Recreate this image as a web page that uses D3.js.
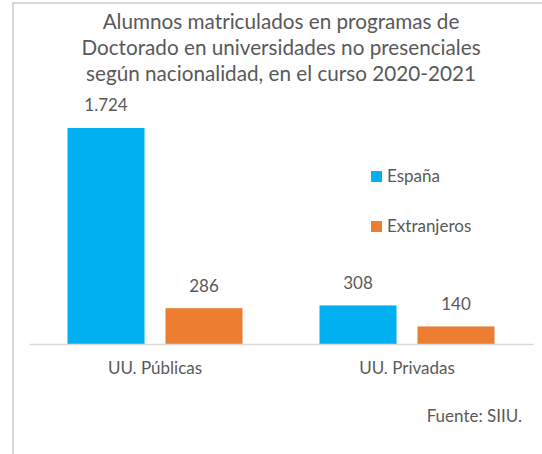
<!DOCTYPE html>
<html>
<head>
<meta charset="utf-8">
<script src="https://cdn.jsdelivr.net/npm/d3@7"></script>
<style>
  body { margin: 0; background: #fff; }
  text { font-family: Lato, "Noto Sans", sans-serif; fill: #595959; }
</style>
</head>
<body>
<script>
// data
var categories = ["UU. Públicas", "UU. Privadas"];
var series = ["España", "Extranjeros"];
var espana = [1724, 308];
var extranjeros = [286, 140];
var titleLines = ["Alumnos matriculados en programas de",
                  "Doctorado en universidades no presenciales",
                  "según nacionalidad, en el curso 2020-2021"];

var colors = {"España": "#00B0F0", "Extranjeros": "#ED7D31"};
var W = 542, H = 454;
var fs = 17; // small text size

var svg = d3.select("body").append("svg")
    .attr("width", W)
    .attr("height", H);

// frame (only left and top visible)
svg.append("rect")
    .attr("x", 13).attr("y", 3)
    .attr("width", W + 20).attr("height", H + 20)
    .attr("fill", "none")
    .attr("stroke", "#d9d9d9")
    .attr("stroke-width", 2);

// title
svg.append("text")
    .attr("text-anchor", "middle")
    .attr("font-size", 20.7)
    .selectAll("tspan")
    .data(titleLines)
    .join("tspan")
    .attr("x", 281)
    .attr("y", function(d, i) { return 29 + i * 26; })
    .text(function(d) { return d; });

var x = d3.scaleBand()
    .domain(categories)
    .range([29, 533]);

var xs = d3.scaleBand()
    .domain(series)
    .range([0, x.bandwidth()])
    .paddingInner(0.214)
    .paddingOuter(0.393);

var y = d3.scaleLinear()
    .domain([0, 2000])
    .range([344, 93.4]);

var rows = categories.map(function(c, i) {
    return [{cat: c, s: "España", v: espana[i]}, {cat: c, s: "Extranjeros", v: extranjeros[i]}];
});

var groups = svg.append("g").selectAll("g")
    .data(rows)
    .join("g")
    .attr("transform", function(d) { return "translate(" + x(d[0].cat) + ",0)"; });

groups.selectAll("rect")
    .data(function(d) { return d; })
    .join("rect")
    .attr("x", function(d) { return xs(d.s); })
    .attr("y", function(d) { return y(d.v); })
    .attr("width", xs.bandwidth())
    .attr("height", function(d) { return y(0) - y(d.v); })
    .attr("fill", function(d) { return colors[d.s]; });

var fmt = d3.formatLocale({decimal: ",", thousands: ".", grouping: [3], currency: ["", "€"]}).format(",d");

groups.selectAll("text.val")
    .data(function(d) { return d; })
    .join("text")
    .attr("class", "val")
    .attr("text-anchor", "middle")
    .attr("font-size", fs)
    .attr("x", function(d) { return xs(d.s) + xs.bandwidth() / 2; })
    .attr("y", function(d) { return y(d.v) - 16.5; })
    .text(function(d) { return fmt(d.v); });

// axis
var xAxis = svg.append("g")
    .attr("transform", "translate(0," + y(0) + ")")
    .call(d3.axisBottom(x).tickSize(0).tickPadding(18));
xAxis.select(".domain").attr("stroke", "#d9d9d9").attr("stroke-width", 1.5);
xAxis.selectAll(".tick text")
    .attr("font-size", fs)
    .attr("font-family", "Lato, 'Noto Sans', sans-serif")
    .attr("fill", "#595959");

// legend
var legend = svg.append("g").selectAll("g")
    .data(series)
    .join("g")
    .attr("transform", function(d, i) { return "translate(371," + (171 + i * 50) + ")"; });
legend.append("rect")
    .attr("width", 11).attr("height", 11)
    .attr("fill", function(d) { return colors[d]; });
legend.append("text")
    .attr("x", 16).attr("y", 11)
    .attr("font-size", fs)
    .text(function(d) { return d; });

// source
svg.append("text")
    .attr("x", 522).attr("y", 422)
    .attr("text-anchor", "end")
    .attr("font-size", fs)
    .text("Fuente: SIIU.");
</script>
</body>
</html>
